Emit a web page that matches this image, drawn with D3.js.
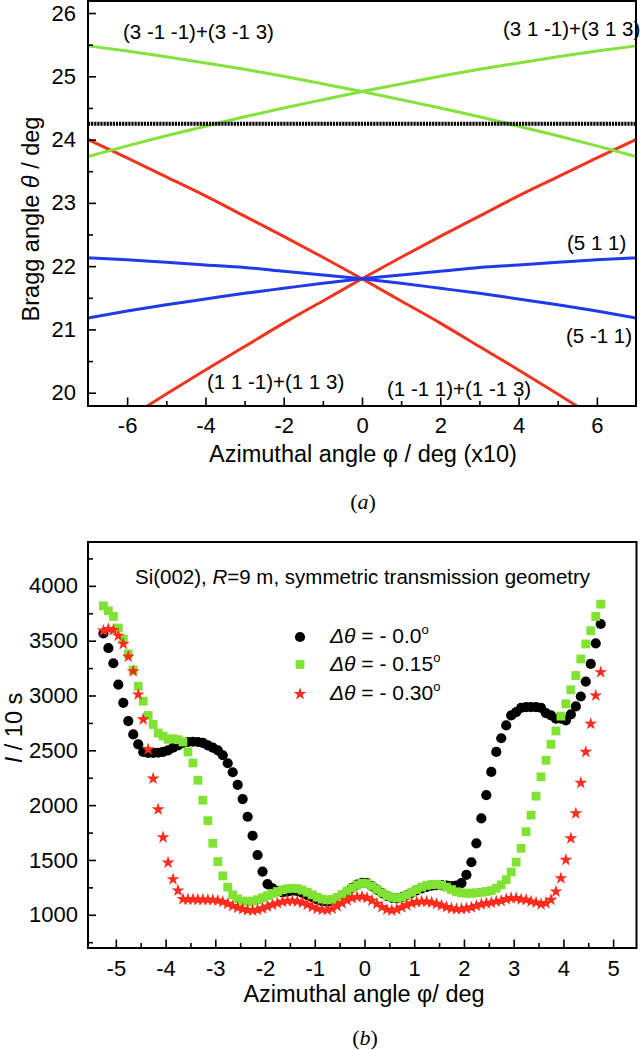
<!DOCTYPE html>
<html>
<head>
<meta charset="utf-8">
<script src="https://cdn.jsdelivr.net/npm/d3@7"></script>
<style>
  body { margin: 0; background: #fff; }
  svg { display: block; }
</style>
</head>
<body>
<div id="chart-area"></div>
<script>

// ---- (a) Bragg angle vs azimuthal angle ----
const phiTop = [-7, -6, -5, -4, -3, -2, -1, 0, 1, 2, 3, 4, 5, 6, 7];
const red113 = [19.19, 19.59, 19.98, 20.36, 20.73, 21.10, 21.45, 21.80, 22.14, 22.47, 22.79, 23.11, 23.41, 23.71, 24.00];
const red1m13 = [24.00, 23.71, 23.41, 23.11, 22.79, 22.47, 22.14, 21.80, 21.45, 21.10, 20.73, 20.36, 19.98, 19.59, 19.19];
const blue511 = [21.18, 21.29, 21.39, 21.48, 21.57, 21.65, 21.73, 21.80, 21.86, 21.92, 21.98, 22.02, 22.06, 22.10, 22.13];
const blue5m11 = [22.13, 22.10, 22.06, 22.02, 21.98, 21.92, 21.86, 21.80, 21.73, 21.65, 21.57, 21.48, 21.39, 21.29, 21.18];
const green313 = [23.73, 23.90, 24.06, 24.21, 24.36, 24.50, 24.63, 24.76, 24.88, 25.00, 25.11, 25.21, 25.31, 25.40, 25.48];
const green3m13 = [25.48, 25.40, 25.31, 25.21, 25.11, 25.00, 24.88, 24.76, 24.63, 24.50, 24.36, 24.21, 24.06, 23.90, 23.73];
const braggSi002 = 24.25;

// ---- (b) intensity vs azimuthal angle ----
const phiB = [-5.25,-5.15,-5.05,-4.95,-4.85,-4.75,-4.65,-4.55,-4.45,-4.35,
  -4.25,-4.15,-4.05,-3.95,-3.85,-3.75,-3.65,-3.55,-3.45,-3.35,
  -3.25,-3.15,-3.05,-2.95,-2.85,-2.75,-2.65,-2.55,-2.45,-2.35,
  -2.25,-2.15,-2.05,-1.95,-1.85,-1.75,-1.65,-1.55,-1.45,-1.35,
  -1.25,-1.15,-1.05,-0.95,-0.85,-0.75,-0.65,-0.55,-0.45,-0.35,
  -0.25,-0.15,-0.05,0.05,0.15,0.25,0.35,0.45,0.55,0.65,
  0.75,0.85,0.95,1.05,1.15,1.25,1.35,1.45,1.55,1.65,
  1.75,1.85,1.95,2.05,2.15,2.25,2.35,2.45,2.55,2.65,
  2.75,2.85,2.95,3.05,3.15,3.25,3.35,3.45,3.55,3.65,
  3.75,3.85,3.95,4.05,4.15,4.25,4.35,4.45,4.55,4.65,
  4.75];
const countsDt000 = [3566,3433,3294,3100,2933,2767,2645,2555,2485,2476,
  2476,2478,2485,2500,2524,2545,2567,2576,2578,2576,
  2567,2545,2524,2500,2455,2382,2300,2185,2055,1894,
  1721,1545,1394,1279,1242,1215,1205,1210,1220,1215,
  1200,1180,1160,1140,1125,1118,1125,1145,1175,1210,
  1245,1275,1292,1288,1262,1230,1198,1172,1155,1150,
  1158,1178,1200,1222,1240,1255,1265,1270,1270,1265,
  1262,1265,1288,1364,1479,1652,1879,2091,2303,2485,
  2610,2727,2818,2848,2888,2894,2894,2894,2888,2839,
  2818,2788,2788,2773,2827,2900,2991,3127,3288,3476,
  3652];
const countsDt015 = [3818,3773,3721,3615,3515,3379,3233,3085,2948,2818,
  2736,2658,2630,2600,2606,2597,2576,2485,2385,2227,
  2045,1858,1652,1485,1355,1252,1182,1145,1125,1120,
  1125,1138,1155,1175,1195,1212,1228,1238,1242,1238,
  1225,1205,1182,1160,1143,1136,1140,1158,1185,1215,
  1245,1272,1288,1285,1262,1232,1200,1175,1158,1152,
  1160,1180,1205,1230,1252,1268,1276,1278,1270,1252,
  1230,1210,1200,1197,1197,1200,1205,1212,1221,1242,
  1273,1320,1390,1480,1606,1758,1909,2082,2258,2409,
  2555,2676,2812,2924,3052,3182,3333,3470,3591,3721,
  3833];
const countsDt030 = [3591,3606,3597,3545,3470,3355,3221,3009,2782,2509,
  2242,1961,1706,1476,1324,1221,1142,1140,1140,1138,
  1138,1136,1135,1130,1118,1100,1080,1065,1052,1042,
  1040,1045,1058,1075,1092,1105,1118,1126,1128,1122,
  1110,1092,1072,1055,1046,1045,1055,1078,1105,1132,
  1152,1162,1165,1155,1130,1100,1070,1048,1040,1048,
  1068,1088,1105,1116,1121,1120,1112,1100,1085,1070,
  1058,1052,1052,1058,1068,1082,1095,1105,1110,1121,
  1127,1142,1152,1152,1140,1136,1121,1112,1097,1106,
  1136,1212,1333,1500,1697,1924,2203,2485,2742,3000,
  3212];
const legendLabels = ['- 0.0', '- 0.15', '- 0.30'];

const ticksTopX = [-6, -4, -2, 0, 2, 4, 6];
const ticksTopXMinor = [-5, -3, -1, 1, 3, 5];
const ticksTopY = [20, 21, 22, 23, 24, 25, 26];
const ticksTopYMinor = [20.5, 21.5, 22.5, 23.5, 24.5, 25.5];
const ticksBotX = [-5, -4, -3, -2, -1, 0, 1, 2, 3, 4, 5];
const ticksBotXMinor = [-4.5, -3.5, -2.5, -1.5, -0.5, 0.5, 1.5, 2.5, 3.5, 4.5];
const ticksBotY = [1000, 1500, 2000, 2500, 3000, 3500, 4000];
const ticksBotYMinor = [750, 1250, 1750, 2250, 2750, 3250, 3750, 4250];

const SANS = '"Liberation Sans", Arial, sans-serif';
const SERIF = '"Liberation Serif", "Times New Roman", serif';
const cRed = '#f2331d';
const cBlue = '#1f3ae6';
const cGreen = '#84e23c';
const cSqGreen = '#80e232';
const cStar = '#ff2b1c';

const svg = d3.select('#chart-area').append('svg')
  .attr('width', 640)
  .attr('height', 1050)
  .attr('font-family', SANS);

const styleAxis = (g, size) => {
  g.select('.domain').remove();
  g.selectAll('line').attr('stroke', '#000').attr('stroke-width', 1.6);
  g.selectAll('text').attr('font-family', SANS).attr('font-size', size).attr('fill', '#000');
};

// ================= (a) =================
const xTop = d3.scaleLinear().domain([-7, 7]).range([88, 636]);
const yTop = d3.scaleLinear().domain([19.79, 26.19]).range([406, 1]);

svg.append('clipPath').attr('id', 'clipTop')
  .append('rect').attr('x', 88).attr('y', 1).attr('width', 548).attr('height', 405);

const lineTop = d3.line()
  .x((d, i) => xTop(phiTop[i]))
  .y(d => yTop(d))
  .curve(d3.curveMonotoneX);

const plotTop = svg.append('g').attr('clip-path', 'url(#clipTop)');

[[red113, cRed], [red1m13, cRed], [blue511, cBlue], [blue5m11, cBlue],
 [green313, cGreen], [green3m13, cGreen]].forEach(([vals, col]) => {
  plotTop.append('path')
    .attr('d', lineTop(vals))
    .attr('fill', 'none')
    .attr('stroke', col)
    .attr('stroke-width', 3);
});

plotTop.append('line')
  .attr('x1', xTop(-7)).attr('x2', xTop(7))
  .attr('y1', yTop(braggSi002)).attr('y2', yTop(braggSi002))
  .attr('stroke', '#000')
  .attr('stroke-width', 4)
  .attr('stroke-dasharray', '2.2,0.9');

const gxTop = svg.append('g').attr('transform', 'translate(0,406)');
gxTop.call(d3.axisBottom(xTop).tickValues(ticksTopX).tickSize(-8.5).tickPadding(11).tickFormat(d => String(d)));
styleAxis(gxTop, 22);
const gxTopMinor = svg.append('g').attr('transform', 'translate(0,406)');
gxTopMinor.call(d3.axisBottom(xTop).tickValues(ticksTopXMinor).tickSize(-5).tickFormat(''));
styleAxis(gxTopMinor, 22);

const gyTop = svg.append('g').attr('transform', 'translate(88,0)');
gyTop.call(d3.axisLeft(yTop).tickValues(ticksTopY).tickSize(-8).tickPadding(12).tickFormat(d => String(d)));
styleAxis(gyTop, 22);
const gyTopMinor = svg.append('g').attr('transform', 'translate(88,0)');
gyTopMinor.call(d3.axisLeft(yTop).tickValues(ticksTopYMinor).tickSize(-5).tickFormat(''));
styleAxis(gyTopMinor, 22);

svg.append('rect')
  .attr('x', 88).attr('y', 1).attr('width', 548).attr('height', 405)
  .attr('fill', 'none').attr('stroke', '#000').attr('stroke-width', 2);

const topLabels = [
  { text: '(3 -1 -1)+(3 -1 3)', x: 123, y: 39 },
  { text: '(3 1 -1)+(3 1 3)', x: 503, y: 36 },
  { text: '(5 1 1)', x: 567, y: 250 },
  { text: '(5 -1 1)', x: 566, y: 343 },
  { text: '(1 1 -1)+(1 1 3)', x: 207, y: 389 },
  { text: '(1 -1 1)+(1 -1 3)', x: 387, y: 396 },
];
svg.selectAll('text.hkl').data(topLabels).join('text')
  .attr('class', 'hkl')
  .attr('x', d => d.x).attr('y', d => d.y)
  .attr('font-size', 20.5)
  .text(d => d.text);

svg.append('text')
  .attr('x', 363).attr('y', 462)
  .attr('text-anchor', 'middle')
  .attr('font-size', 23.5)
  .text('Azimuthal angle \u03c6  / deg (x10)');

const yTitleTop = svg.append('text')
  .attr('transform', 'translate(31,219) rotate(-90)')
  .attr('text-anchor', 'middle')
  .attr('dy', '0.36em')
  .attr('font-size', 23.5);
yTitleTop.append('tspan').text('Bragg angle ');
yTitleTop.append('tspan').attr('font-style', 'italic').text('\u03b8');
yTitleTop.append('tspan').text(' / deg');

const capA = svg.append('text')
  .attr('x', 363).attr('y', 509)
  .attr('text-anchor', 'middle')
  .attr('font-family', SERIF)
  .attr('font-size', 22);
capA.append('tspan').text('(');
capA.append('tspan').attr('font-style', 'italic').text('a');
capA.append('tspan').text(')');

// ================= (b) =================
const xBot = d3.scaleLinear().domain([-5.56, 5.47]).range([88, 636.5]);
const yBot = d3.scaleLinear().domain([697, 4400]).range([948, 542]);

const gBlack = svg.append('g');
gBlack.selectAll('circle').data(countsDt000).join('circle')
  .attr('cx', (d, i) => xBot(phiB[i]))
  .attr('cy', d => yBot(d))
  .attr('r', 5.1)
  .attr('fill', '#000');

const gGreen = svg.append('g');
gGreen.selectAll('rect').data(countsDt015).join('rect')
  .attr('x', (d, i) => xBot(phiB[i]) - 4.4)
  .attr('y', d => yBot(d) - 4.4)
  .attr('width', 8.8).attr('height', 8.8)
  .attr('fill', cSqGreen);

const star = d3.symbol(d3.symbolStar, 52);
const gRed = svg.append('g');
gRed.selectAll('path').data(countsDt030).join('path')
  .attr('d', star)
  .attr('transform', (d, i) => `translate(${xBot(phiB[i])},${yBot(d)})`)
  .attr('fill', cStar);

const gxBot = svg.append('g').attr('transform', 'translate(0,948)');
gxBot.call(d3.axisBottom(xBot).tickValues(ticksBotX).tickSize(-8.5).tickPadding(12).tickFormat(d => String(d)));
styleAxis(gxBot, 22);
const gxBotMinor = svg.append('g').attr('transform', 'translate(0,948)');
gxBotMinor.call(d3.axisBottom(xBot).tickValues(ticksBotXMinor).tickSize(-5).tickFormat(''));
styleAxis(gxBotMinor, 22);

const gyBot = svg.append('g').attr('transform', 'translate(88,0)');
gyBot.call(d3.axisLeft(yBot).tickValues(ticksBotY).tickSize(-8).tickPadding(10).tickFormat(d => String(d)));
styleAxis(gyBot, 22);
const gyBotMinor = svg.append('g').attr('transform', 'translate(88,0)');
gyBotMinor.call(d3.axisLeft(yBot).tickValues(ticksBotYMinor).tickSize(-5).tickFormat(''));
styleAxis(gyBotMinor, 22);

svg.append('rect')
  .attr('x', 88).attr('y', 542).attr('width', 548.5).attr('height', 406)
  .attr('fill', 'none').attr('stroke', '#000').attr('stroke-width', 2);

const note = svg.append('text')
  .attr('x', 135).attr('y', 584)
  .attr('font-size', 20.5);
note.append('tspan').text('Si(002), ');
note.append('tspan').attr('font-style', 'italic').text('R');
note.append('tspan').text('=9 m, symmetric transmission geometry');

// legend
const legendRows = [637, 664.5, 694];
const legend = svg.append('g');
legend.append('circle').attr('cx', 300).attr('cy', legendRows[0]).attr('r', 5.1).attr('fill', '#000');
legend.append('rect').attr('x', 295.6).attr('y', legendRows[1] - 4.4).attr('width', 8.8).attr('height', 8.8).attr('fill', cSqGreen);
legend.append('path').attr('d', star).attr('transform', `translate(300,${legendRows[2]})`).attr('fill', cStar);
legendLabels.forEach((lab, i) => {
  const t = legend.append('text')
    .attr('x', 330).attr('y', legendRows[i] + 6)
    .attr('font-size', 21);
  t.append('tspan').attr('font-style', 'italic').text('\u0394\u03b8');
  t.append('tspan').text(' = ' + lab);
  t.append('tspan').attr('font-size', 13).attr('dy', -9).text('o');
});

svg.append('text')
  .attr('x', 364).attr('y', 1002)
  .attr('text-anchor', 'middle')
  .attr('font-size', 23.5)
  .text('Azimuthal angle \u03c6/ deg');

const yTitleBot = svg.append('text')
  .attr('transform', 'translate(14,728) rotate(-90)')
  .attr('text-anchor', 'middle')
  .attr('dy', '0.36em')
  .attr('font-size', 23.5);
yTitleBot.append('tspan').attr('font-style', 'italic').text('I');
yTitleBot.append('tspan').text(' / 10 s');

const capB = svg.append('text')
  .attr('x', 365).attr('y', 1045)
  .attr('text-anchor', 'middle')
  .attr('font-family', SERIF)
  .attr('font-size', 22);
capB.append('tspan').text('(');
capB.append('tspan').attr('font-style', 'italic').text('b');
capB.append('tspan').text(')');

</script>
</body>
</html>
